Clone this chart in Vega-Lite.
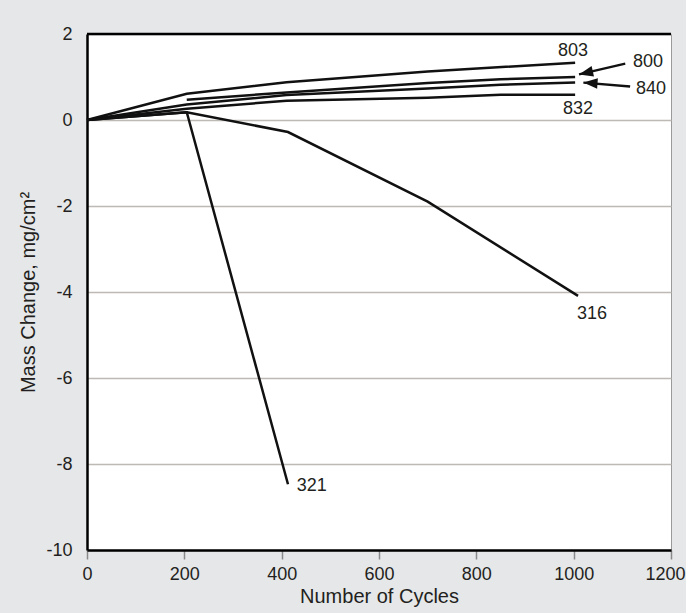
{
  "$schema": "https://vega.github.io/schema/vega-lite/v6.json",
  "width": 584,
  "height": 516,
  "autosize": {"type": "none"},
  "padding": {"left": 87, "top": 34, "right": 15, "bottom": 63},
  "background": "#e6e7e9",
  "config": {
    "font": "Liberation Sans",
    "view": {"fill": "white", "stroke": "#9a9a9a", "strokeWidth": 1}
  },
  "datasets": {
    "series": [
      {"series": "803", "cycles": 0, "mass": 0},
      {"series": "803", "cycles": 205, "mass": 0.61},
      {"series": "803", "cycles": 410, "mass": 0.88},
      {"series": "803", "cycles": 700, "mass": 1.13},
      {"series": "803", "cycles": 1003, "mass": 1.33},
      {"series": "800", "cycles": 205, "mass": 0.47},
      {"series": "800", "cycles": 410, "mass": 0.64},
      {"series": "800", "cycles": 700, "mass": 0.86},
      {"series": "800", "cycles": 850, "mass": 0.95},
      {"series": "800", "cycles": 1003, "mass": 1.0},
      {"series": "840", "cycles": 0, "mass": 0},
      {"series": "840", "cycles": 205, "mass": 0.36},
      {"series": "840", "cycles": 410, "mass": 0.58},
      {"series": "840", "cycles": 700, "mass": 0.73},
      {"series": "840", "cycles": 850, "mass": 0.82},
      {"series": "840", "cycles": 1003, "mass": 0.87},
      {"series": "832", "cycles": 0, "mass": 0},
      {"series": "832", "cycles": 205, "mass": 0.26},
      {"series": "832", "cycles": 410, "mass": 0.45},
      {"series": "832", "cycles": 700, "mass": 0.52},
      {"series": "832", "cycles": 850, "mass": 0.59},
      {"series": "832", "cycles": 1003, "mass": 0.59},
      {"series": "316", "cycles": 0, "mass": 0},
      {"series": "316", "cycles": 205, "mass": 0.18},
      {"series": "316", "cycles": 413, "mass": -0.28},
      {"series": "316", "cycles": 700, "mass": -1.9},
      {"series": "316", "cycles": 1009, "mass": -4.09},
      {"series": "321", "cycles": 0, "mass": 0},
      {"series": "321", "cycles": 205, "mass": 0.18},
      {"series": "321", "cycles": 413, "mass": -8.47}
    ],
    "labels": [
      {"text": "803", "cycles": 968, "mass": 1.6},
      {"text": "800", "cycles": 1122, "mass": 1.35},
      {"text": "840", "cycles": 1128, "mass": 0.72},
      {"text": "832", "cycles": 978, "mass": 0.26},
      {"text": "316", "cycles": 1007, "mass": -4.51},
      {"text": "321", "cycles": 431, "mass": -8.5}
    ],
    "arrows": [
      {"arrow": "a800", "cycles": 1106, "mass": 1.31, "cycles2": 1011, "mass2": 1.06},
      {"arrow": "a840", "cycles": 1116, "mass": 0.78, "cycles2": 1020, "mass2": 0.87}
    ],
    "frame": [{"mass": 2}]
  },
  "layer": [
    {
      "data": {"name": "series"},
      "mark": {"type": "line", "color": "#111111", "strokeWidth": 2.5},
      "encoding": {
        "x": {
          "field": "cycles", "type": "quantitative",
          "scale": {"domain": [0, 1200], "nice": false},
          "axis": {
            "title": "Number of Cycles",
            "values": [0, 200, 400, 600, 800, 1000, 1200],
            "labelExpr": "toString(datum.value)",
            "labelFlush": false,
            "labelOffset": {"condition": {"test": "datum.value === 1200", "value": -6}, "value": 0},
            "grid": false,
            "domainColor": "#000000", "domainWidth": 2.5,
            "tickColor": "#8a8a8a", "tickWidth": 1.5, "tickSize": 9,
            "labelFontSize": 18, "labelColor": "#231f20", "labelPadding": 6,
            "titleFontSize": 20, "titleFontWeight": "normal", "titleColor": "#231f20", "titlePadding": 3
          }
        },
        "y": {
          "field": "mass", "type": "quantitative",
          "scale": {"domain": [-10, 2], "nice": false},
          "axis": {
            "title": "Mass Change, mg/cm²",
            "values": [-10, -8, -6, -4, -2, 0, 2],
            "labelExpr": "toString(datum.value)",
            "grid": true, "gridColor": "#bdb9b5", "gridWidth": 1.5,
            "ticks": false,
            "domainColor": "#000000", "domainWidth": 2.5,
            "labelFontSize": 18, "labelColor": "#231f20", "labelPadding": 15,
            "titleFontSize": 20, "titleFontWeight": "normal", "titleColor": "#231f20", "titlePadding": 7
          }
        },
        "detail": {"field": "series"}
      }
    },
    {
      "data": {"name": "frame"},
      "mark": {"type": "rule", "color": "#000000", "strokeWidth": 2.5},
      "encoding": {"y": {"field": "mass", "type": "quantitative"}}
    },
    {
      "data": {"name": "labels"},
      "mark": {"type": "text", "align": "left", "baseline": "middle", "fontSize": 18, "color": "#231f20"},
      "encoding": {
        "x": {"field": "cycles", "type": "quantitative"},
        "y": {"field": "mass", "type": "quantitative"},
        "text": {"field": "text"}
      }
    },
    {
      "data": {"name": "arrows"},
      "mark": {"type": "rule", "color": "#111111", "strokeWidth": 2.4},
      "encoding": {
        "x": {"field": "cycles", "type": "quantitative"},
        "y": {"field": "mass", "type": "quantitative"},
        "x2": {"field": "cycles2"},
        "y2": {"field": "mass2"}
      }
    },
    {
      "data": {"name": "arrows"},
      "transform": [{"filter": "datum.arrow === 'a800'"}],
      "mark": {"type": "point", "shape": "M0,0 L2,-0.75 L2,0.75 Z", "filled": true, "color": "#111111", "opacity": 1, "size": 200, "angle": 347},
      "encoding": {
        "x": {"field": "cycles2", "type": "quantitative"},
        "y": {"field": "mass2", "type": "quantitative"}
      }
    },
    {
      "data": {"name": "arrows"},
      "transform": [{"filter": "datum.arrow === 'a840'"}],
      "mark": {"type": "point", "shape": "M0,0 L2,-0.75 L2,0.75 Z", "filled": true, "color": "#111111", "opacity": 1, "size": 200, "angle": 4},
      "encoding": {
        "x": {"field": "cycles2", "type": "quantitative"},
        "y": {"field": "mass2", "type": "quantitative"}
      }
    }
  ]
}
